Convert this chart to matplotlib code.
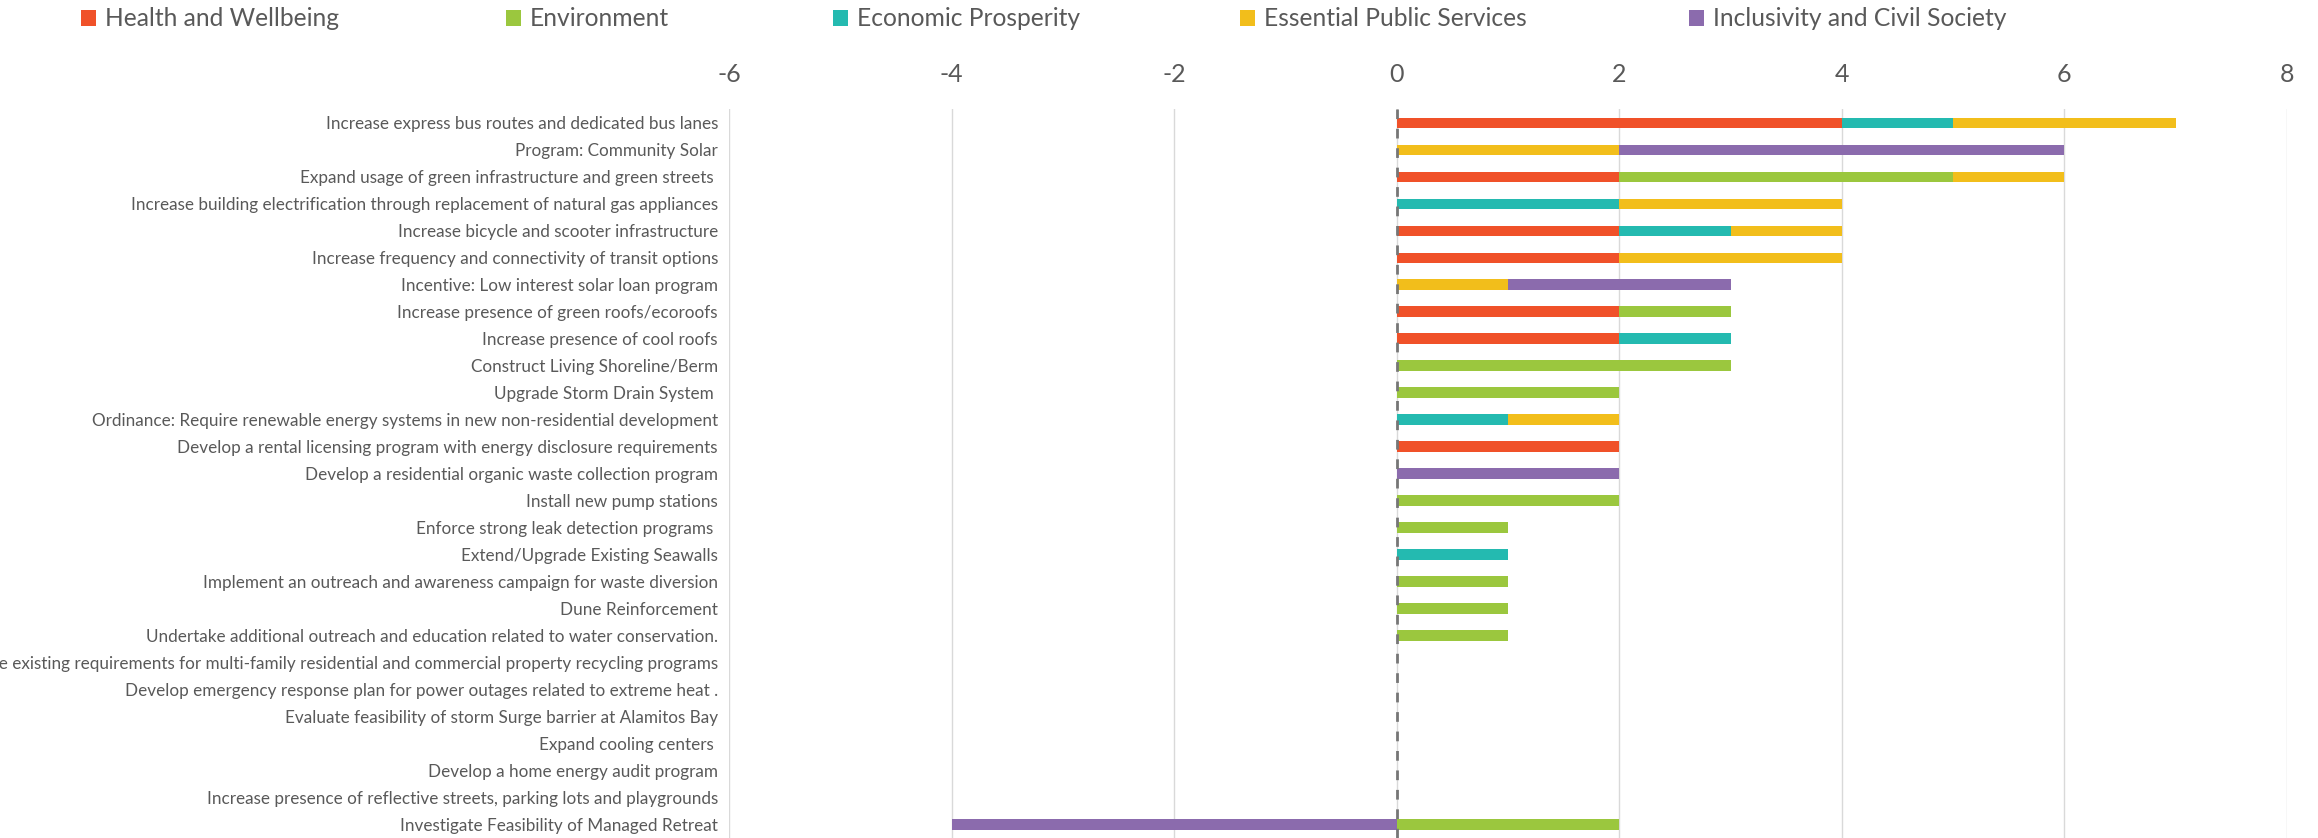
import numpy as np
import matplotlib
matplotlib.use("Agg")
import matplotlib.pyplot as plt
from matplotlib.patches import Patch

plt.rcParams['font.family'] = ['Lato', 'DejaVu Sans']

# actions, top to bottom
actions = [
    "Increase express bus routes and dedicated bus lanes",
    "Program: Community Solar",
    "Expand usage of green infrastructure and green streets ",
    "Increase building electrification through replacement of natural gas appliances",
    "Increase bicycle and scooter infrastructure",
    "Increase frequency and connectivity of transit options",
    "Incentive: Low interest solar loan program",
    "Increase presence of green roofs/ecoroofs",
    "Increase presence of cool roofs",
    "Construct Living Shoreline/Berm",
    "Upgrade Storm Drain System ",
    "Ordinance: Require renewable energy systems in new non-residential development",
    "Develop a rental licensing program with energy disclosure requirements",
    "Develop a residential organic waste collection program",
    "Install new pump stations",
    "Enforce strong leak detection programs ",
    "Extend/Upgrade Existing Seawalls",
    "Implement an outreach and awareness campaign for waste diversion",
    "Dune Reinforcement",
    "Undertake additional outreach and education related to water conservation.",
    "Enforce existing requirements for multi-family residential and commercial property recycling programs",
    "Develop emergency response plan for power outages related to extreme heat .",
    "Evaluate feasibility of storm Surge barrier at Alamitos Bay",
    "Expand cooling centers ",
    "Develop a home energy audit program",
    "Increase presence of reflective streets, parking lots and playgrounds",
    "Investigate Feasibility of Managed Retreat",
]

categories = ["Health and Wellbeing", "Environment", "Economic Prosperity",
              "Essential Public Services", "Inclusivity and Civil Society"]
colors = ["#F05129", "#9BC73E", "#24BAB0", "#F2BE1B", "#8B6BAD"]

health      = [4, 0, 2, 0, 2, 2, 0, 2, 2, 0, 0, 0, 2, 0, 0, 0, 0, 0, 0, 0, 0, 0, 0, 0, 0, 0, 0]
environment = [0, 0, 3, 0, 0, 0, 0, 1, 0, 3, 2, 0, 0, 0, 2, 1, 0, 1, 1, 1, 0, 0, 0, 0, 0, 0, 2]
economic    = [1, 0, 0, 2, 1, 0, 0, 0, 1, 0, 0, 1, 0, 0, 0, 0, 1, 0, 0, 0, 0, 0, 0, 0, 0, 0, 0]
essential   = [2, 2, 1, 2, 1, 2, 1, 0, 0, 0, 0, 1, 0, 0, 0, 0, 0, 0, 0, 0, 0, 0, 0, 0, 0, 0, 0]
inclusivity = [0, 4, 0, 0, 0, 0, 2, 0, 0, 0, 0, 0, 0, 2, 0, 0, 0, 0, 0, 0, 0, 0, 0, 0, 0, 0, -4]

series = [health, environment, economic, essential, inclusivity]
xticks = [-6, -4, -2, 0, 2, 4, 6, 8]

W, H = 2318, 838
fig = plt.figure(figsize=(W / 100, H / 100), dpi=100)
ax = fig.add_axes([729 / W, 0, (2287 - 729) / W, 1 - 109.5 / H])

y = np.arange(len(actions))
pos_left = np.zeros(len(actions))
neg_left = np.zeros(len(actions))
for vals, col in zip(series, colors):
    v = np.array(vals, dtype=float)
    left = np.where(v >= 0, pos_left, neg_left)
    ax.barh(y, v, left=left, height=0.4, color=col, zorder=2)
    pos_left += np.where(v > 0, v, 0)
    neg_left += np.where(v < 0, v, 0)

# dashed zero line
ax.axvline(0, color="#767676", lw=2, linestyle=(0, (3.5, 3.5)), zorder=3)

ax.set_xlim(xticks[0], xticks[-1])
ax.set_ylim(len(actions) - 0.5, -0.5)
ax.set_xticks(xticks)
ax.set_xticklabels([str(t) for t in xticks])
ax.set_yticks(y)
ax.set_yticklabels(actions)
ax.grid(axis="x", color="#D9D9D9", lw=1, zorder=0)
ax.set_axisbelow(True)
for s in ax.spines.values():
    s.set_visible(False)

ax.tick_params(axis="x", top=True, labeltop=True, bottom=False, labelbottom=False,
               length=0, pad=17, labelsize=18, labelcolor="#595959")
ax.tick_params(axis="y", length=0, pad=8, labelsize=12.3, labelcolor="#595959")

# legend entries spaced like the original (one small legend per entry)
legend_x = [81, 506, 833, 1240, 1689]
for lab, col, lx in zip(categories, colors, legend_x):
    fig.legend([Patch(facecolor=col, edgecolor="none")], [lab], loc="center left",
               bbox_to_anchor=(lx / W, 1 - 19 / H), frameon=False, fontsize=17.7,
               handlelength=0.63, handleheight=0.63, handletextpad=0.35,
               borderpad=0, borderaxespad=0, labelcolor="#595959")

fig.savefig("out.png", dpi=100)
